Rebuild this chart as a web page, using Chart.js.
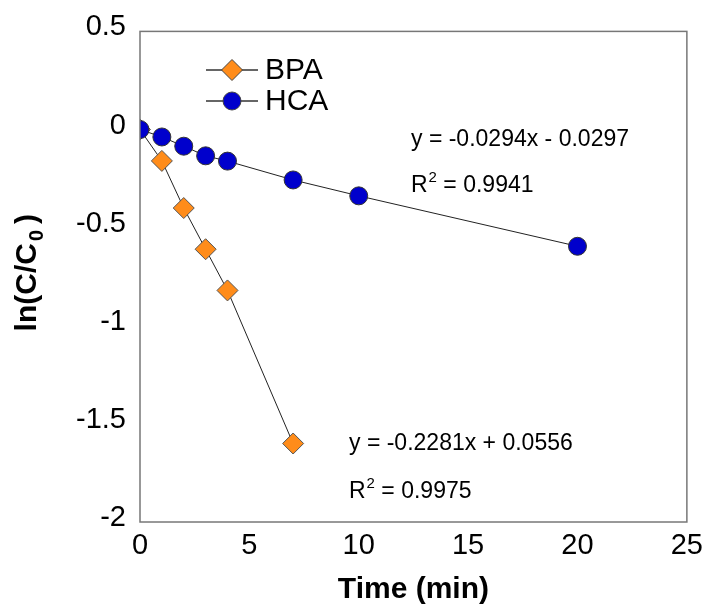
<!DOCTYPE html>
<html><head><meta charset="utf-8">
<script src="https://cdn.jsdelivr.net/npm/chart.js@4"></script>
<style>html,body{margin:0;padding:0;background:#fff}</style>
</head><body>
<canvas id="c" width="710" height="606"></canvas>
<script>
const timeBPA = [0, 1, 2, 3, 4, 7];
const lnBPA = [0, -0.16, -0.40, -0.61, -0.82, -1.60];
const timeHCA = [0, 1, 2, 3, 4, 7, 10, 20];
const lnHCA = [0, -0.038, -0.085, -0.134, -0.161, -0.257, -0.338, -0.595];
const xTicks = [0, 5, 10, 15, 20, 25];
const yTicks = [0.5, 0, -0.5, -1, -1.5, -2];
const seriesNames = ['BPA', 'HCA'];
const fitBPA = ['y = -0.2281x + 0.0556', '0.9975'];
const fitHCA = ['y = -0.0294x - 0.0297', '0.9941'];
const xTitle = 'Time (min)';

const FONT = "'Liberation Sans', Arial, sans-serif";
const ORANGE = '#FF8C1A';
const BLUE = '#0000CC';

function toXY(xs, ys) { return xs.map((x, i) => ({ x: x, y: ys[i] })); }

const overlay = {
  id: 'overlay',
  afterDraw(chart) {
    const ctx = chart.ctx;
    const a = chart.chartArea;
    ctx.save();
    // plot border
    ctx.strokeStyle = '#777';
    ctx.lineWidth = 1.5;
    ctx.strokeRect(a.left, a.top, a.right - a.left, a.bottom - a.top);

    // legend
    const legend = [
      { name: seriesNames[0], y: 70, style: 'rectRot', r: 10.5, color: ORANGE },
      { name: seriesNames[1], y: 101, style: 'circle', r: 9, color: BLUE }
    ];
    legend.forEach(it => {
      ctx.strokeStyle = '#666';
      ctx.lineWidth = 2;
      ctx.beginPath(); ctx.moveTo(206, it.y); ctx.lineTo(258, it.y); ctx.stroke();
      ctx.fillStyle = it.color;
      ctx.strokeStyle = '#444';
      ctx.lineWidth = 1;
      Chart.helpers.drawPoint(ctx, { pointStyle: it.style, radius: it.r, borderWidth: 1 }, 232, it.y);
      ctx.fillStyle = '#000';
      ctx.font = '30px ' + FONT;
      ctx.textBaseline = 'middle';
      ctx.textAlign = 'left';
      ctx.fillText(it.name, 265, it.y + 1);
    });

    // trendline annotations
    function eq(lines, x, y1, y2) {
      ctx.fillStyle = '#000';
      ctx.textBaseline = 'alphabetic';
      ctx.textAlign = 'left';
      ctx.font = '23px ' + FONT;
      ctx.fillText(lines[0], x, y1);
      ctx.fillText('R', x, y2);
      let w = ctx.measureText('R').width;
      ctx.font = '15px ' + FONT;
      ctx.fillText('2', x + w + 1, y2 - 10);
      let w2 = ctx.measureText('2').width;
      ctx.font = '23px ' + FONT;
      ctx.fillText(' = ' + lines[1], x + w + w2 + 1, y2);
    }
    eq(fitHCA, 411, 146, 192);
    eq(fitBPA, 349, 450, 498);

    // x title
    ctx.font = 'bold 30px ' + FONT;
    ctx.textAlign = 'center';
    ctx.textBaseline = 'alphabetic';
    ctx.fillText(xTitle, (a.left + a.right) / 2, 598);

    // y title
    ctx.save();
    ctx.translate(36, (a.top + a.bottom) / 2 - 4);
    ctx.rotate(-Math.PI / 2);
    ctx.textAlign = 'left';
    ctx.font = 'bold 30px ' + FONT;
    const p1 = 'ln(C/C';
    const w1 = ctx.measureText(p1).width;
    ctx.font = 'bold 20px ' + FONT;
    const ws = ctx.measureText('0').width;
    ctx.font = 'bold 30px ' + FONT;
    const wp = ctx.measureText(')').width;
    const gap = 8;
    const tot = w1 + ws + gap + wp;
    let sx = -tot / 2;
    ctx.fillText(p1, sx, 0);
    ctx.font = 'bold 20px ' + FONT;
    ctx.fillText('0', sx + w1 + 2, 7);
    ctx.font = 'bold 30px ' + FONT;
    ctx.fillText(')', sx + w1 + ws + gap, 0);
    ctx.restore();

    ctx.restore();
  }
};

new Chart(document.getElementById('c'), {
  type: 'scatter',
  data: {
    datasets: [
      {
        label: seriesNames[1],
        data: toXY(timeHCA, lnHCA),
        showLine: true,
        borderColor: '#222',
        borderWidth: 1,
        pointStyle: 'circle',
        pointRadius: 9,
        pointHoverRadius: 9,
        pointBackgroundColor: BLUE,
        pointBorderColor: '#333',
        pointBorderWidth: 1
      },
      {
        label: seriesNames[0],
        data: toXY(timeBPA, lnBPA),
        showLine: true,
        borderColor: '#222',
        borderWidth: 1,
        pointStyle: 'rectRot',
        pointRadius: 10.5,
        pointHoverRadius: 10.5,
        pointBackgroundColor: ORANGE,
        pointBorderColor: '#555',
        pointBorderWidth: 1
      }
    ]
  },
  options: {
    responsive: false,
    animation: false,
    layout: { padding: { top: 29, right: 20, left: 0, bottom: 0 } },
    plugins: { legend: { display: false }, tooltip: { enabled: false } },
    scales: {
      x: {
        type: 'linear', min: 0, max: 25,
        afterBuildTicks: s => { s.ticks = xTicks.map(v => ({ value: v })); },
        afterFit: s => { s.height = 84; },
        grid: { display: false, drawTicks: false, tickLength: 0 },
        border: { display: false },
        ticks: { color: '#000', font: { family: FONT, size: 29 }, padding: 7, maxRotation: 0,
                 callback: v => String(v) }
      },
      y: {
        type: 'linear', min: -2, max: 0.5,
        afterBuildTicks: s => { s.ticks = yTicks.map(v => ({ value: v })); },
        afterFit: s => { s.width = 140; },
        grid: { display: false, drawTicks: false, tickLength: 0 },
        border: { display: false },
        ticks: { color: '#000', font: { family: FONT, size: 29 }, padding: 14, labelOffset: -4,
                 callback: v => String(v) }
      }
    }
  },
  plugins: [overlay]
});
</script>
</body></html>
